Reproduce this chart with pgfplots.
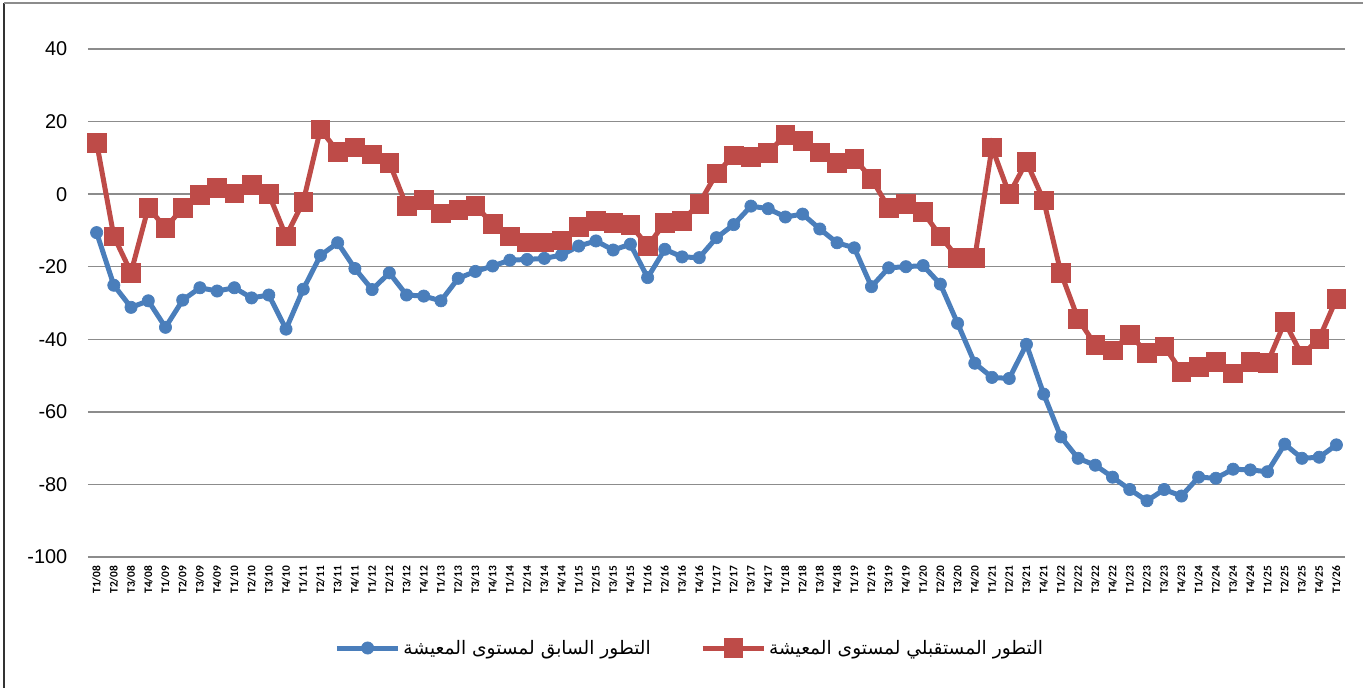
\documentclass[border=0pt]{standalone}
\usepackage{fontspec}
\usepackage{pgfplots}
\usepackage{pgfplotstable}
\pgfplotsset{compat=1.18}
\setmainfont{Liberation Sans}
\newfontfamily\arabicfont[Script=Arabic]{DejaVu Sans}
\newfontfamily\xfont{Carlito}
\TeXXeTstate=1
\definecolor{cblue}{HTML}{4A7EBB}
\definecolor{cred}{HTML}{BE4B48}
\definecolor{cgrid}{HTML}{8C8C8C}
\pgfplotstableread{
idx lab past fut
0 T1/08 -10.6 14.2
1 T2/08 -25.1 -11.6
2 T3/08 -31.2 -21.6
3 T4/08 -29.4 -3.7
4 T1/09 -36.7 -9.3
5 T2/09 -29.2 -3.8
6 T3/09 -25.8 -0.1
7 T4/09 -26.7 1.8
8 T1/10 -25.8 0.2
9 T2/10 -28.6 2.5
10 T3/10 -27.8 0.0
11 T4/10 -37.2 -11.6
12 T1/11 -26.2 -2.1
13 T2/11 -16.9 17.9
14 T3/11 -13.4 11.7
15 T4/11 -20.5 12.9
16 T1/12 -26.3 11.0
17 T2/12 -21.7 8.7
18 T3/12 -27.8 -3.3
19 T4/12 -28.1 -1.5
20 T1/13 -29.4 -5.3
21 T2/13 -23.2 -4.4
22 T3/13 -21.3 -3.3
23 T4/13 -19.8 -8.1
24 T1/14 -18.2 -11.6
25 T2/14 -18.0 -13.3
26 T3/14 -17.7 -13.3
27 T4/14 -16.8 -12.7
28 T1/15 -14.3 -9.0
29 T2/15 -12.9 -7.4
30 T3/15 -15.4 -7.9
31 T4/15 -13.8 -8.4
32 T1/16 -23.0 -14.3
33 T2/16 -15.2 -7.9
34 T3/16 -17.3 -7.4
35 T4/16 -17.5 -2.6
36 T1/17 -12.0 5.7
37 T2/17 -8.4 10.7
38 T3/17 -3.3 10.3
39 T4/17 -4.0 11.3
40 T1/18 -6.3 16.4
41 T2/18 -5.5 14.7
42 T3/18 -9.6 11.5
43 T4/18 -13.4 8.7
44 T1/19 -14.8 9.8
45 T2/19 -25.5 4.3
46 T3/19 -20.3 -3.8
47 T4/19 -20.0 -2.6
48 T1/20 -19.7 -4.9
49 T2/20 -24.8 -11.6
50 T3/20 -35.6 -17.5
51 T4/20 -46.6 -17.5
52 T1/21 -50.5 12.9
53 T2/21 -50.8 0.0
54 T3/21 -41.4 8.9
55 T4/21 -55.1 -1.7
56 T1/22 -66.9 -21.7
57 T2/22 -72.8 -34.4
58 T3/22 -74.7 -41.6
59 T4/22 -78.0 -43.0
60 T1/23 -81.4 -38.8
61 T2/23 -84.5 -43.7
62 T3/23 -81.4 -41.9
63 T4/23 -83.2 -48.9
64 T1/24 -78.0 -47.6
65 T2/24 -78.3 -46.2
66 T3/24 -75.8 -49.4
67 T4/24 -76.0 -46.2
68 T1/25 -76.5 -46.5
69 T2/25 -68.9 -35.2
70 T3/25 -72.8 -44.4
71 T4/25 -72.5 -39.8
72 T1/26 -69.1 -28.9
}\datatable
\begin{document}
\begin{tikzpicture}
\useasboundingbox (-66bp,-98.25bp) rectangle (956.25bp,417.75bp);
\begin{axis}[
  scale only axis,
  width=942.75bp, height=381bp,
  xmin=-0.5, xmax=72.5,
  ymin=-100, ymax=40,
  axis line style={draw=none},
  major tick length=0pt,
  ymajorgrids,
  grid style={cgrid, line width=1.1bp},
  ytick={-100,-80,-60,-40,-20,0,20,40},
  yticklabels={-100,-80,-60,-40,-20,0,20,40},
  yticklabel style={font=\fontsize{15}{18}\selectfont, xshift=-12bp},
  xtick=data,
  xticklabels from table={\datatable}{lab},
  xticklabel style={font=\xfont\bfseries\fontsize{8.6}{9}\selectfont, rotate=90, anchor=east, yshift=0bp, xshift=-3bp},
  clip=false,
  legend columns=2,
  legend style={at={(0.479,0)}, anchor=center, yshift=-68.25bp, draw=none, fill=none,
    font=\arabicfont\fontsize{14}{17}\selectfont,
    /tikz/every even column/.append style={column sep=35bp},
    inner sep=0pt},
  legend image code/.code={\draw[mark repeat=2, mark phase=2] plot coordinates {(0bp,0bp) (23bp,0bp) (46bp,0bp)};},
]
\addplot[cblue, line width=3.75bp, mark=*, mark size=4.6bp, mark options={fill=cblue, draw=cblue, line width=0.5bp}]
  table[x=idx, y=past] {\datatable};
\addlegendentry{\beginR التطور السابق لمستوى المعيشة\endR}
\addplot[cred, line width=3.75bp, mark=square*, mark size=7bp, mark options={fill=cred, draw=cred, line width=0.5bp}]
  table[x=idx, y=fut] {\datatable};
\addlegendentry{\beginR التطور المستقبلي لمستوى المعيشة\endR}
\end{axis}
\draw[black!80, line width=1.2bp] (-63bp,-98.25bp) -- (-63bp,415.5bp);
\draw[black!45, line width=0.9bp] (-63bp,415.5bp) -- (956.25bp,415.5bp);
\end{tikzpicture}
\end{document}
